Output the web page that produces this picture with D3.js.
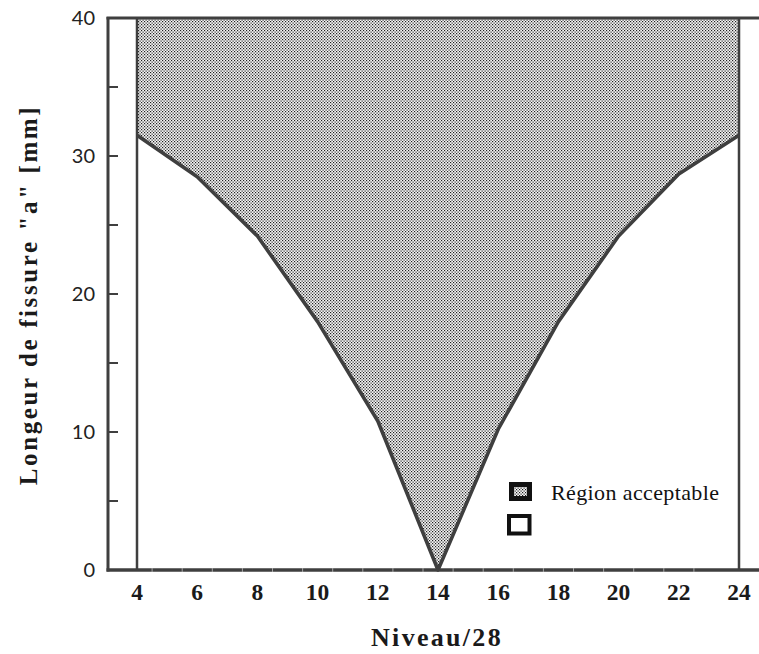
<!DOCTYPE html>
<html><head><meta charset="utf-8">
<script src="https://cdn.jsdelivr.net/npm/d3@7"></script>
<style>body{margin:0;background:#fff}svg{display:block}</style>
</head><body>
<script>
const niveaux = [4, 6, 8, 10, 12, 14, 16, 18, 20, 22, 24];
const longueur = [31.5, 28.5, 24.2, 18.0, 10.8, 0, 10.2, 18.0, 24.2, 28.7, 31.5];
const yTicks = [0, 10, 20, 30, 40];
const yMinorTicks = [5, 15, 25, 35];
const xTicks = [4, 6, 8, 10, 12, 14, 16, 18, 20, 22, 24];
const legendLabels = ["Région acceptable", ""];

const W = 759, H = 654;
const svg = d3.select("body").append("svg").attr("width", W).attr("height", H);
const x = d3.scaleLinear().domain([4, 24]).range([137, 739]);
const y = d3.scaleLinear().domain([0, 40]).range([570, 18]);
const ink = "#3f3f3f";

const defs = svg.append("defs");
const pat = defs.append("pattern").attr("id", "dots").attr("patternUnits", "userSpaceOnUse")
  .attr("width", 3).attr("height", 3);
pat.append("rect").attr("width", 3).attr("height", 3).attr("fill", "#f6f6f6");
pat.append("rect").attr("x", 0).attr("y", 0).attr("width", 1.2).attr("height", 1.2).attr("fill", "#1e1e1e");
pat.append("rect").attr("x", 1.5).attr("y", 1.5).attr("width", 1.2).attr("height", 1.2).attr("fill", "#1e1e1e");

const data = niveaux.map((n, i) => ({n, v: longueur[i]}));

// shaded acceptable region
const area = d3.area().x(d => x(d.n)).y0(y(40)).y1(d => y(d.v));
svg.append("path").datum(data).attr("d", area).attr("fill", "url(#dots)");

// boundary curve
const line = d3.line().x(d => x(d.n)).y(d => y(d.v));
svg.append("path").datum(data).attr("d", line).attr("fill", "none")
  .attr("stroke", ink).attr("stroke-width", 3.6).attr("stroke-linejoin", "round");

// vertical limits at 4 and 24
[4, 24].forEach(v => {
  svg.append("line").attr("x1", x(v)).attr("x2", x(v)).attr("y1", y(40)).attr("y2", y(0))
    .attr("stroke", ink).attr("stroke-width", 2.5);
});

// frame: left axis, top, bottom
svg.append("line").attr("x1", 108).attr("x2", 108).attr("y1", y(40) - 1).attr("y2", y(0) + 1.5)
  .attr("stroke", ink).attr("stroke-width", 3);
svg.append("line").attr("x1", 106.5).attr("x2", W).attr("y1", y(40)).attr("y2", y(40))
  .attr("stroke", ink).attr("stroke-width", 3);
svg.append("line").attr("x1", 106.5).attr("x2", W).attr("y1", y(0)).attr("y2", y(0))
  .attr("stroke", ink).attr("stroke-width", 3.5);

// y ticks
yTicks.concat(yMinorTicks).forEach(t => {
  svg.append("line").attr("x1", 109).attr("x2", 118).attr("y1", y(t)).attr("y2", y(t))
    .attr("stroke", ink).attr("stroke-width", 2);
});
svg.selectAll(".ylab").data(yTicks).enter().append("text")
  .attr("x", 95).attr("y", d => y(d) + 7).attr("text-anchor", "end")
  .attr("font-family", "Lato, 'Open Sans', sans-serif").attr("font-size", 20).attr("fill", "#222")
  .text(d => d);

// x minor tick marks (light breaks on the axis)
d3.range(5, 24).forEach(t => {
  svg.append("line").attr("x1", x(t) - 15).attr("x2", x(t) - 15).attr("y1", y(0) - 2).attr("y2", y(0) + 2)
    .attr("stroke", "#bbb").attr("stroke-width", 0.8);
});
svg.selectAll(".xlab").data(xTicks).enter().append("text")
  .attr("x", d => x(d)).attr("y", 600).attr("text-anchor", "middle")
  .attr("font-family", "'Liberation Serif', 'DejaVu Serif', serif").attr("font-weight", "bold")
  .attr("font-size", 23.5).attr("fill", "#1a1a1a").text(d => d);

// axis titles
svg.append("text").attr("x", 437).attr("y", 646).attr("text-anchor", "middle")
  .attr("font-family", "'Liberation Serif', serif").attr("font-weight", "bold")
  .attr("font-size", 26).attr("letter-spacing", 2.3).attr("fill", "#1a1a1a").text("Niveau/28");
svg.append("text").attr("transform", "translate(37,295) rotate(-90)").attr("text-anchor", "middle")
  .attr("font-family", "'Liberation Serif', serif").attr("font-weight", "bold")
  .attr("font-size", 25).attr("letter-spacing", 2.6).attr("fill", "#1a1a1a").text('Longeur de fissure "a" [mm]');

// legend
const lg = svg.append("g");
lg.append("rect").attr("x", 511.5).attr("y", 484.5).attr("width", 18).attr("height", 14)
  .attr("fill", "url(#dots)").attr("stroke", "#111").attr("stroke-width", 5);
lg.append("rect").attr("x", 509).attr("y", 516).attr("width", 20.5).attr("height", 17.5)
  .attr("fill", "#fff").attr("stroke", "#111").attr("stroke-width", 4);
lg.append("text").attr("x", 551).attr("y", 500)
  .attr("font-family", "'Liberation Serif', serif").attr("font-size", 22).attr("fill", "#111")
  .attr("textLength", 168).attr("lengthAdjust", "spacing")
  .text(legendLabels[0]);
</script>
</body></html>
